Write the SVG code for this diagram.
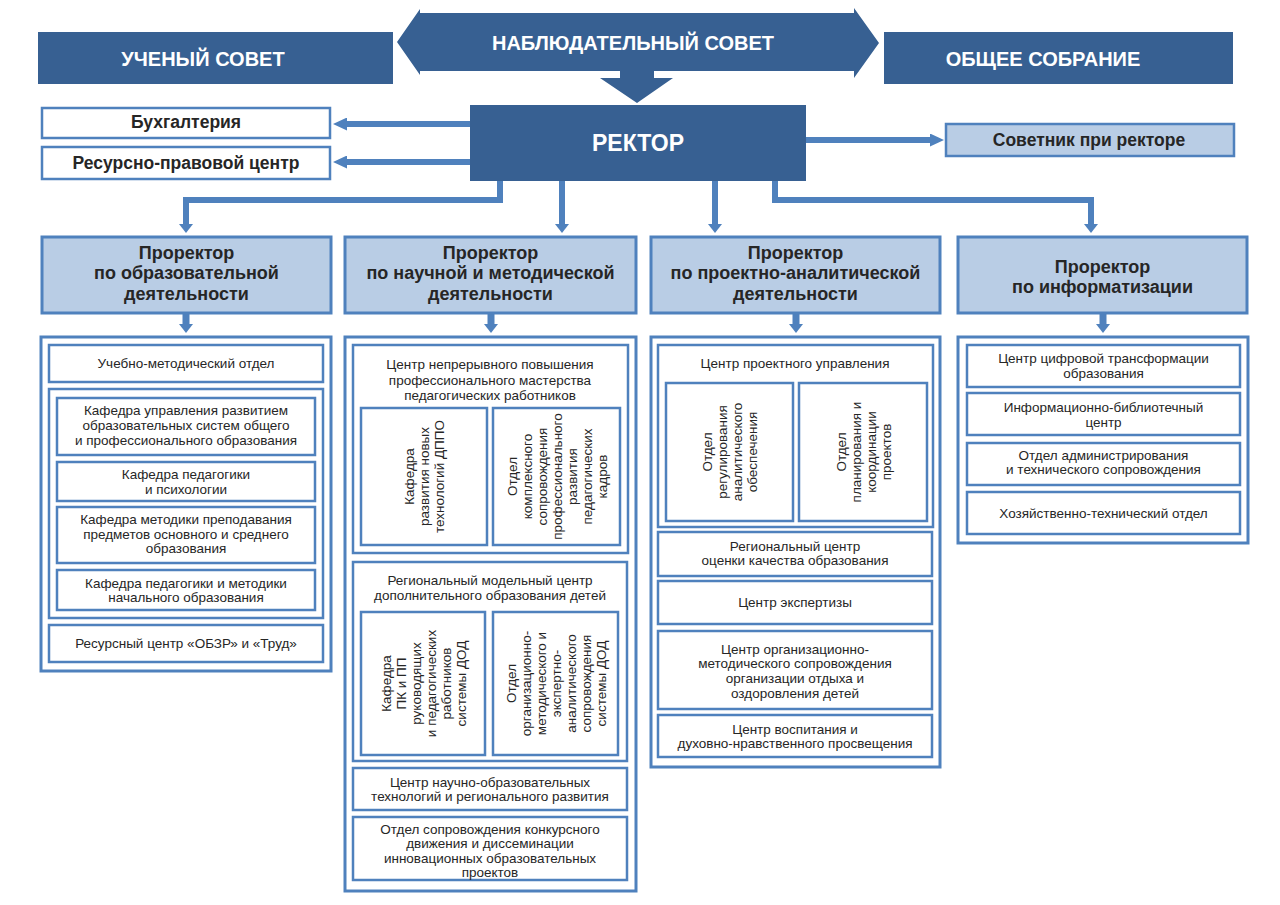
<svg xmlns="http://www.w3.org/2000/svg" width="1280" height="905" viewBox="0 0 1280 905">
<style>
.dark{fill:#376092}
.pr{fill:#B9CDE5;stroke:#4F81BD;stroke-width:3}
.box{fill:#fff;stroke:#4F81BD;stroke-width:2.5}
.lb{fill:#B9CDE5;stroke:#4F81BD;stroke-width:2.5}
.cont{fill:#fff;stroke:#4F81BD;stroke-width:3}
text{font-family:"Liberation Sans",Arial,sans-serif;text-anchor:middle;fill:#262626}
.t{font-size:13.5px}
.tb{font-size:17.5px;font-weight:bold}
.tp{font-size:18px;font-weight:bold}
.tw{font-size:20px;font-weight:bold;fill:#fff}
.tr{font-size:23px;font-weight:bold;fill:#fff}
.conn{fill:none;stroke:#4F81BD;stroke-width:6;stroke-linejoin:miter}
.conn7{fill:none;stroke:#4F81BD;stroke-width:7}
</style>
<defs>
<marker id="ahL" markerUnits="userSpaceOnUse" markerWidth="14" markerHeight="13" refX="0" refY="6.5" orient="auto"><path d="M0,0 L14,6.5 L0,13 Z" fill="#4F81BD"/></marker>
<marker id="ahD" markerUnits="userSpaceOnUse" markerWidth="9" markerHeight="14" refX="0" refY="7" orient="auto"><path d="M0,0 L9,7 L0,14 Z" fill="#4F81BD"/></marker>
</defs>
<rect width="1280" height="905" fill="#fff"/>

<g id="connectors">
<line class="conn" x1="470" y1="124" x2="347" y2="124" marker-end="url(#ahL)"/>
<line class="conn" x1="470" y1="162" x2="347" y2="162" marker-end="url(#ahL)"/>
<line class="conn" x1="806" y1="140" x2="930" y2="140" marker-end="url(#ahL)"/>
<path class="conn" d="M500,181 V200 H186 V224" marker-end="url(#ahD)"/>
<path class="conn" d="M562,181 V224" marker-end="url(#ahD)"/>
<path class="conn" d="M715,181 V224" marker-end="url(#ahD)"/>
<path class="conn" d="M775,181 V200 H1091 V224" marker-end="url(#ahD)"/>
<path class="conn7" d="M186,314 V324" marker-end="url(#ahD)"/>
<path class="conn7" d="M491,314 V324" marker-end="url(#ahD)"/>
<path class="conn7" d="M796,314 V324" marker-end="url(#ahD)"/>
<path class="conn7" d="M1103,314 V324" marker-end="url(#ahD)"/>
</g>

<g id="uchenyi-sovet">
<rect class="dark" x="38" y="32" width="355" height="52"/>
<text class="tw" x="203" y="66">УЧЕНЫЙ СОВЕТ</text>
</g>
<g id="obshchee-sobranie">
<rect class="dark" x="884" y="32" width="349" height="52"/>
<text class="tw" x="1043" y="66">ОБЩЕЕ СОБРАНИЕ</text>
</g>
<g id="nablyudatelnyi-sovet">
<path class="dark" d="M420,13 H854 V8 L879,43 L854,78 V71 H654 V78 H673 L637,103 L600,78 H620 V71 H420 V75 L397,42 L420,9 Z"/>
<text class="tw" x="633" y="50">НАБЛЮДАТЕЛЬНЫЙ СОВЕТ</text>
</g>
<g id="rektor">
<rect class="dark" x="470" y="105" width="336" height="76"/>
<text class="tr" x="638" y="151">РЕКТОР</text>
</g>
<g id="buhgalteriya">
<rect class="box" x="42" y="108" width="288" height="30"/>
<text class="tb" x="186" y="128">Бухгалтерия</text>
</g>
<g id="resursno-pravovoi">
<rect class="box" x="42" y="147" width="288" height="32"/>
<text class="tb" x="186" y="169">Ресурсно-правовой центр</text>
</g>
<g id="sovetnik">
<rect class="lb" x="946" y="124" width="288" height="32"/>
<text class="tb" x="1089" y="146">Советник при ректоре</text>
</g>

<g id="prorektor-1">
<rect class="pr" x="42" y="237" width="289" height="76"/>
<text class="tp"><tspan x="186.5" y="259">Проректор</tspan><tspan x="186.5" y="279">по образовательной</tspan><tspan x="186.5" y="300">деятельности</tspan></text>
</g>
<g id="prorektor-2">
<rect class="pr" x="345" y="237" width="291" height="76"/>
<text class="tp"><tspan x="490.5" y="259">Проректор</tspan><tspan x="490.5" y="279">по научной и методической</tspan><tspan x="490.5" y="300">деятельности</tspan></text>
</g>
<g id="prorektor-3">
<rect class="pr" x="651" y="237" width="289" height="76"/>
<text class="tp"><tspan x="795.5" y="259">Проректор</tspan><tspan x="795.5" y="279">по проектно-аналитической</tspan><tspan x="795.5" y="300">деятельности</tspan></text>
</g>
<g id="prorektor-4">
<rect class="pr" x="958" y="237" width="289" height="76"/>
<text class="tp"><tspan x="1102.5" y="273">Проректор</tspan><tspan x="1102.5" y="293">по информатизации</tspan></text>
</g>

<g id="column-1">
<rect class="cont" x="41" y="337" width="290" height="334"/>
<g id="umo"><rect class="box" x="49" y="345" width="274" height="37"/><text class="t" x="186" y="368">Учебно-методический отдел</text></g>
<g id="kafedry-group"><rect class="box" x="49" y="389" width="274" height="229"/></g>
<g id="kaf-upravleniya"><rect class="box" x="57" y="398" width="258" height="57"/><text class="t"><tspan x="186" y="415">Кафедра управления развитием</tspan><tspan x="186" y="430">образовательных систем общего</tspan><tspan x="186" y="445">и профессионального образования</tspan></text></g>
<g id="kaf-pedagogiki"><rect class="box" x="57" y="462" width="258" height="39"/><text class="t"><tspan x="186" y="479">Кафедра педагогики</tspan><tspan x="186" y="494">и психологии</tspan></text></g>
<g id="kaf-metodiki"><rect class="box" x="57" y="507" width="258" height="56"/><text class="t"><tspan x="186" y="524">Кафедра методики преподавания</tspan><tspan x="186" y="539">предметов основного и среднего</tspan><tspan x="186" y="553">образования</tspan></text></g>
<g id="kaf-nachalnogo"><rect class="box" x="57" y="570" width="258" height="40"/><text class="t"><tspan x="186" y="588">Кафедра педагогики и методики</tspan><tspan x="186" y="602">начального образования</tspan></text></g>
<g id="resursnyi-centr"><rect class="box" x="49" y="625" width="274" height="37"/><text class="t" x="186" y="648">Ресурсный центр «ОБЗР» и «Труд»</text></g>
</g>

<g id="column-2">
<rect class="cont" x="345" y="337" width="291" height="554"/>
<g id="centr-nepreryvnogo"><rect class="box" x="353" y="345" width="275" height="208"/><text class="t"><tspan x="490" y="369">Центр непрерывного повышения</tspan><tspan x="490" y="385">профессионального мастерства</tspan><tspan x="490" y="400">педагогических работников</tspan></text></g>
<g id="kaf-dppo"><rect class="box" x="361" y="408" width="126" height="137"/><text class="t" transform="translate(424,476.5) rotate(-90)"><tspan x="0" y="-10">Кафедра</tspan><tspan x="0" y="5">развития новых</tspan><tspan x="0" y="20">технологий ДППО</tspan></text></g>
<g id="otdel-kompleksnogo"><rect class="box" x="493" y="408" width="127" height="137"/><text class="t" transform="translate(556.5,476.5) rotate(-90)"><tspan x="0" y="-40">Отдел</tspan><tspan x="0" y="-25">комплексного</tspan><tspan x="0" y="-10">сопровождения</tspan><tspan x="0" y="5">профессионального</tspan><tspan x="0" y="20">развития</tspan><tspan x="0" y="35">педагогических</tspan><tspan x="0" y="50">кадров</tspan></text></g>
<g id="regionalnyi-modelnyi"><rect class="box" x="353" y="562" width="274" height="199"/><text class="t"><tspan x="490" y="585">Региональный модельный центр</tspan><tspan x="490" y="600">дополнительного образования детей</tspan></text></g>
<g id="kaf-pk-pp"><rect class="box" x="361" y="612" width="124" height="143"/><text class="t" transform="translate(423,683.5) rotate(-90)"><tspan x="0" y="-32.5">Кафедра</tspan><tspan x="0" y="-17.5">ПК и ПП</tspan><tspan x="0" y="-2.5">руководящих</tspan><tspan x="0" y="12.5">и педагогических</tspan><tspan x="0" y="27.5">работников</tspan><tspan x="0" y="42.5">системы ДОД</tspan></text></g>
<g id="otdel-dod"><rect class="box" x="493" y="612" width="125" height="143"/><text class="t" transform="translate(555.5,683.5) rotate(-90)"><tspan x="0" y="-40">Отдел</tspan><tspan x="0" y="-25">организационно-</tspan><tspan x="0" y="-10">методического и</tspan><tspan x="0" y="5">экспертно-</tspan><tspan x="0" y="20">аналитического</tspan><tspan x="0" y="35">сопровождения</tspan><tspan x="0" y="50">системы ДОД</tspan></text></g>
<g id="centr-nauchno"><rect class="box" x="353" y="768" width="274" height="42"/><text class="t"><tspan x="490" y="787">Центр научно-образовательных</tspan><tspan x="490" y="801">технологий и регионального развития</tspan></text></g>
<g id="otdel-konkursnogo"><rect class="box" x="353" y="817" width="274" height="63"/><text class="t"><tspan x="490" y="834">Отдел сопровождения конкурсного</tspan><tspan x="490" y="848">движения и диссеминации</tspan><tspan x="490" y="863">инновационных образовательных</tspan><tspan x="490" y="877">проектов</tspan></text></g>
</g>

<g id="column-3">
<rect class="cont" x="651" y="337" width="289" height="430"/>
<g id="centr-proektnogo"><rect class="box" x="658" y="345" width="275" height="182"/><text class="t" x="795" y="368">Центр проектного управления</text></g>
<g id="otdel-regulirovaniya"><rect class="box" x="666" y="383" width="127" height="138"/><text class="t" transform="translate(729.5,452) rotate(-90)"><tspan x="0" y="-17.5">Отдел</tspan><tspan x="0" y="-2.5">регулирования</tspan><tspan x="0" y="12.5">аналитического</tspan><tspan x="0" y="27.5">обеспечения</tspan></text></g>
<g id="otdel-planirovaniya"><rect class="box" x="799" y="383" width="128" height="138"/><text class="t" transform="translate(863,452) rotate(-90)"><tspan x="0" y="-17.5">Отдел</tspan><tspan x="0" y="-2.5">планирования и</tspan><tspan x="0" y="12.5">координации</tspan><tspan x="0" y="27.5">проектов</tspan></text></g>
<g id="rcoko"><rect class="box" x="658" y="532" width="274" height="44"/><text class="t"><tspan x="795" y="551">Региональный центр</tspan><tspan x="795" y="565">оценки качества образования</tspan></text></g>
<g id="centr-ekspertizy"><rect class="box" x="658" y="581" width="274" height="43"/><text class="t" x="795" y="607">Центр экспертизы</text></g>
<g id="centr-otdyha"><rect class="box" x="658" y="631" width="274" height="78"/><text class="t"><tspan x="795" y="654">Центр организационно-</tspan><tspan x="795" y="668">методического сопровождения</tspan><tspan x="795" y="683">организации отдыха и</tspan><tspan x="795" y="698">оздоровления детей</tspan></text></g>
<g id="centr-vospitaniya"><rect class="box" x="658" y="715" width="274" height="42"/><text class="t"><tspan x="795" y="734">Центр воспитания и</tspan><tspan x="795" y="748">духовно-нравственного просвещения</tspan></text></g>
</g>

<g id="column-4">
<rect class="cont" x="958" y="337" width="290" height="206"/>
<g id="centr-cifrovoi"><rect class="box" x="967" y="345" width="273" height="42"/><text class="t"><tspan x="1103.5" y="363">Центр цифровой трансформации</tspan><tspan x="1103.5" y="378">образования</tspan></text></g>
<g id="ibc"><rect class="box" x="967" y="393" width="273" height="42"/><text class="t"><tspan x="1103.5" y="412">Информационно-библиотечный</tspan><tspan x="1103.5" y="427">центр</tspan></text></g>
<g id="otdel-administrirovaniya"><rect class="box" x="967" y="443" width="273" height="42"/><text class="t"><tspan x="1103.5" y="460">Отдел администрирования</tspan><tspan x="1103.5" y="474">и технического сопровождения</tspan></text></g>
<g id="hoz-tech"><rect class="box" x="967" y="492" width="273" height="42"/><text class="t" x="1103.5" y="518">Хозяйственно-технический отдел</text></g>
</g>
</svg>
